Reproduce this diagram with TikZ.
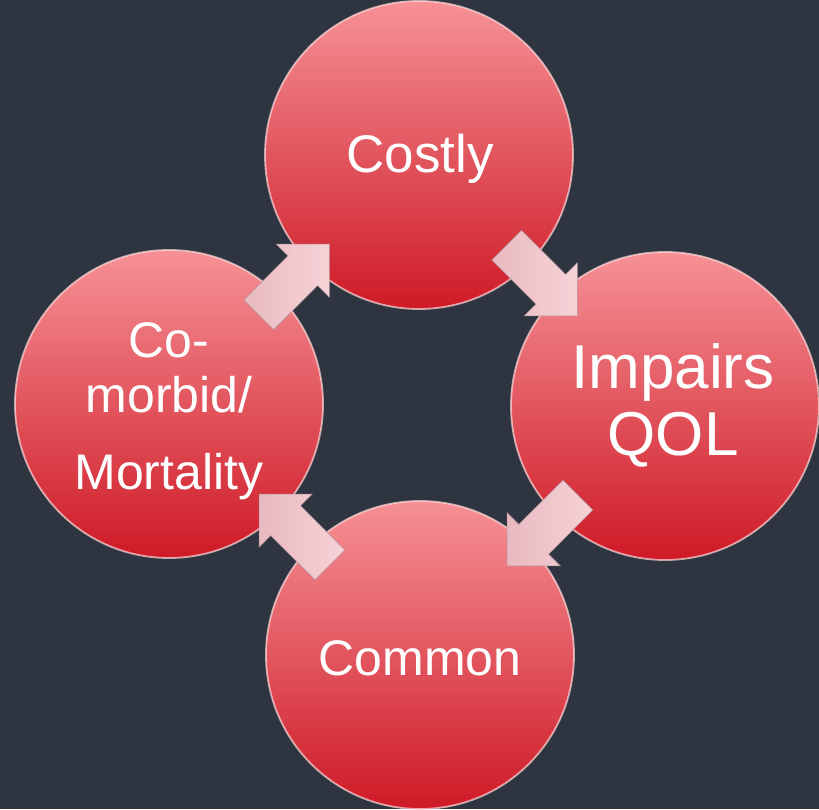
\documentclass[tikz,border=0pt]{standalone}
\usepackage{fontspec}
\setmainfont{Liberation Sans}
\usetikzlibrary{calc}
\definecolor{bg}{RGB}{46,52,64}
\definecolor{balltop}{RGB}{246,145,150}
\definecolor{ballmid}{RGB}{230,104,110}
\definecolor{ballbot}{RGB}{206,26,38}
\definecolor{rim}{RGB}{255,220,220}
\definecolor{arrtop}{RGB}{246,210,215}
\definecolor{arrbot}{RGB}{232,186,193}
\definecolor{arredge}{RGB}{180,150,156}
\tikzset{
  ball/.style={circle, minimum size=308pt, inner sep=0pt,
    top color=balltop, middle color=ballmid, bottom color=ballbot,
    draw=rim, draw opacity=0.7, line width=1.8pt},
  balltext/.style={text=white, align=center, inner sep=0pt},
  blockarr/.style={left color=arrbot, right color=arrtop, draw=arredge, line width=0.6pt}
}
\newcommand\myblockarrow[3]{%
  \begin{scope}[shift={($(#1)!0.5!(#2)$)}, rotate=#3]
    \path[blockarr] (-50,-21) -- (12.5,-21) -- (12.5,-37.5) -- (50,0) -- (12.5,37.5) -- (12.5,21) -- (-50,21) -- cycle;
  \end{scope}}
\begin{document}
\begin{tikzpicture}[x=1pt,y=1pt]
  \fill[bg] (0,0) rectangle (819,809);
  \useasboundingbox (0,0) rectangle (819,809);
  \node[ball] (cost) at (419,654) {};
  \node[ball] (qol) at (665,403) {};
  \node[ball] (comm) at (420,154) {};
  \node[ball] (morb) at (169,405) {};
  \node[balltext, anchor=base, font=\fontsize{53}{60}\selectfont] (tcost) at (420,636) {Costly};
  \node[balltext, font=\fontsize{62}{67}\selectfont] (tqol) at (673,404) {Impairs\\QOL};
  \node[balltext, anchor=base, font=\fontsize{50}{55}\selectfont] (tcomm) at (420,134) {Common};
  \node[balltext, font=\fontsize{50}{55}\selectfont] (tmorb) at (169,398) {Co-\\morbid/\\[22pt]Mortality};
  \myblockarrow{morb}{cost}{45}
  \myblockarrow{cost}{qol}{-45}
  \myblockarrow{qol}{comm}{-135}
  \myblockarrow{comm}{morb}{135}
\end{tikzpicture}
\end{document}
